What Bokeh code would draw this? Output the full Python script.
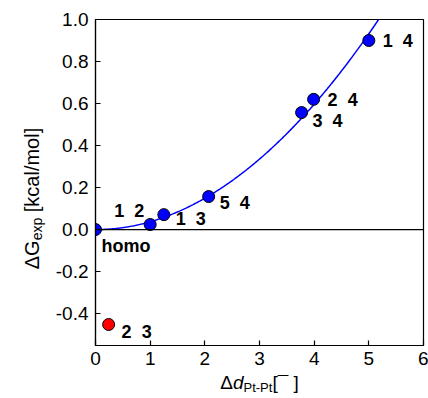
import numpy as np
from bokeh.plotting import figure
from bokeh.models import Span, FixedTicker, PrintfTickFormatter, ColumnDataSource
from bokeh.core.properties import value
from bokeh.embed import file_html
from bokeh.resources import INLINE

# data
x_pts = [0.0, 1.0, 1.25, 2.07, 3.77, 3.99, 5.0]
y_pts = [0.0, 0.024, 0.071, 0.157, 0.557, 0.62, 0.90]
pt_labels = ["homo", "1\u00a0\u00a02", "1\u00a0\u00a03", "5\u00a0\u00a04", "3\u00a0\u00a04", "2\u00a0\u00a04", "1\u00a0\u00a04"]
x_red = [0.24]
y_red = [-0.452]
red_labels = ["2\u00a0\u00a03"]
x_ticks = [0, 1, 2, 3, 4, 5, 6]
y_ticks = [-0.4, -0.2, 0.0, 0.2, 0.4, 0.6, 0.8, 1.0]
X0, X1, Y0, Y1 = 0, 6, -0.552, 1.0

# label pixel offsets (dx right, dy down)
lab_dx = [6, -36, 12, 11, 11, 14, 14]
lab_dy = [16, -14, 4, 6, 8, 1, 0]
red_dx = [13]
red_dy = [8]

FONT = "Liberation Sans"

p = figure(width=428, height=398, output_backend="svg", toolbar_location=None,
           x_range=(X0, X1), y_range=(Y0, Y1),
           min_border_left=95, min_border_right=5, min_border_top=19, min_border_bottom=53)
p.background_fill_color = "white"
p.border_fill_color = "white"
p.outline_line_color = "black"
p.outline_line_width = 1.2
p.grid.visible = False

for ax in (p.xaxis, p.yaxis):
    ax.major_tick_in = 5
    ax.major_tick_out = 0
    ax.minor_tick_in = 0
    ax.minor_tick_out = 0
    ax.axis_line_color = "black"
    ax.axis_line_width = 1.2
    ax.major_tick_line_color = "black"
    ax.major_tick_line_width = 1.2
    ax.major_label_text_font = FONT
    ax.major_label_text_font_size = "19px"
    ax.major_label_text_color = "black"
p.xaxis.ticker = FixedTicker(ticks=x_ticks)
p.yaxis.ticker = FixedTicker(ticks=y_ticks)
p.xaxis.formatter = PrintfTickFormatter(format="%d")
p.yaxis.formatter = PrintfTickFormatter(format="%.1f")
p.xaxis.major_label_standoff = 6
p.yaxis.major_label_standoff = 7

p.add_layout(Span(location=0, dimension="width", line_color="black", line_width=1.3))

# quadratic fit through origin: y = a x^2
xa = np.array(x_pts)
ya = np.array(y_pts)
a = np.sum(xa**2 * ya) / np.sum(xa**4)
xf = np.linspace(0, 6, 300)
p.line(xf, a * xf**2, line_color="#0000ff", line_width=1.5)

src = ColumnDataSource(dict(x=x_pts, y=y_pts, t=pt_labels, dx=lab_dx, dy=lab_dy))
src_r = ColumnDataSource(dict(x=x_red, y=y_red, t=red_labels, dx=red_dx, dy=red_dy))
p.scatter("x", "y", source=src, size=12, fill_color="#0000ff", line_color="black", line_width=1)
p.scatter("x", "y", source=src_r, size=12, fill_color="#ff0000", line_color="black", line_width=1)
for s in (src, src_r):
    p.text("x", "y", text="t", source=s, x_offset="dx", y_offset="dy",
           text_font=value(FONT), text_font_style="bold", text_font_size="18px",
           text_align="left", text_baseline="middle", text_color="black")

# axis labels made of pieces, anchored at frame bottom-left with pixel offsets
W = {"Δ": 0.667, "G": 0.778, "d": 0.556, "e": 0.556, "x": 0.5, "p": 0.556, "P": 0.667,
     "t": 0.278, "-": 0.333, "[": 0.278, "]": 0.278, "¯": 0.552, " ": 0.278, "\u00a0": 0.278,
     "k": 0.5, "c": 0.5, "a": 0.556, "l": 0.222, "/": 0.278, "m": 0.833, "o": 0.556}

def tw(s, size):
    return sum(W.get(ch, 0.556) for ch in s) * size

def piece(t, size, style, dx, dy, angle=0.0):
    p.text([X0], [Y0], text=[t], x_offset=dx, y_offset=dy, angle=angle, level="overlay",
           text_font=value(FONT), text_font_size=f"{size}px", text_font_style=style,
           text_align="left", text_baseline="alphabetic", text_color="black")

MS, SS = 19, 13
xparts = [("Δ", MS, "normal", 0), ("d", MS, "italic", 0), ("Pt-Pt", SS, "normal", 5), ("[¯\u00a0]", MS, "normal", 0)]
total = sum(tw(t, s) for t, s, _, _ in xparts)
pos = 164 - total / 2
for t, s, st, sh in xparts:
    piece(t, s, st, pos, 37 + sh)
    pos += tw(t, s)

YS, YSS = 20, 14
yparts = [("ΔG", YS, "normal", 0), ("exp", YSS, "normal", 5), ("\u00a0[kcal/mol]", YS, "normal", 0)]
total = sum(tw(t, s) for t, s, _, _ in yparts)
pos = -147 + total / 2
for t, s, st, sh in yparts:
    piece(t, s, st, -64 + sh, pos, angle=np.pi / 2)
    pos -= tw(t, s)

open("out.html", "w").write(file_html(p, INLINE))
